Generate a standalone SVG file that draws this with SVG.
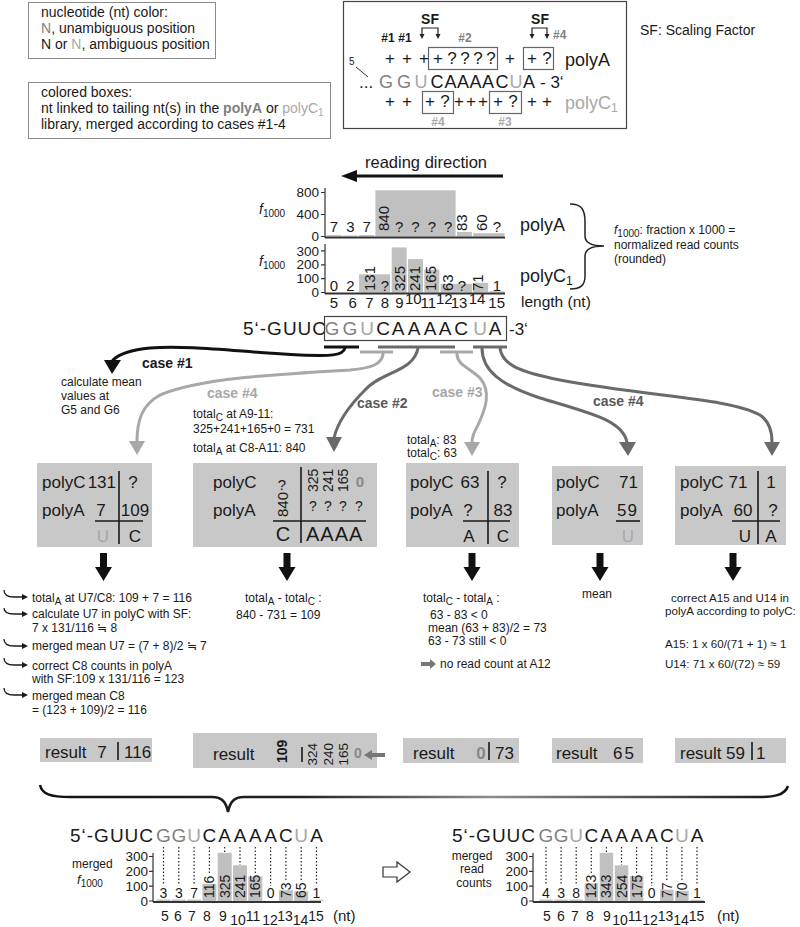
<svg xmlns="http://www.w3.org/2000/svg" width="800" height="927" viewBox="0 0 800 927">
<defs>
<style>
text{font-family:"Liberation Sans",Arial,Helvetica,sans-serif;fill:#1a1a1a}
.f10{font-size:10px}.f12{font-size:12px}.f13{font-size:13.5px}.f14{font-size:14px}.f15{font-size:15px}.f17{font-size:17px}.f18{font-size:18px}.f19{font-size:19px}.f20{font-size:20px}
.b{font-weight:bold}.it{font-style:italic}
.mid{text-anchor:middle}.end{text-anchor:end}
.gm{fill:#808080}.gl{fill:#a8a8a8}.gd{fill:#5a5a5a}.gg{fill:#888}
.frame{fill:none;stroke:#8a8a8a;stroke-width:1}
.frame2{fill:none;stroke:#444;stroke-width:1.2}
.cb{fill:none;stroke:#666;stroke-width:1.2}
.gbox{fill:#c8c8c8}
.bar{fill:#c0c0c0}
.thin{fill:#c4c4c4}
.ax{stroke:#333;stroke-width:1.2;fill:none}
.xax{stroke:#333;stroke-width:2}
.tl{stroke:#1a1a1a;stroke-width:1.6;fill:none}
.dot{stroke:#222;stroke-width:1.2;stroke-dasharray:1.5 2}
.cn{fill:none;stroke-width:3;stroke-linecap:round}
.k{stroke:#111}.kl{stroke:#a8a8a8}.kd{stroke:#6a6a6a}
.hk{fill:none;stroke:#1a1a1a;stroke-width:1.3}
</style>
<linearGradient id="brg" gradientUnits="userSpaceOnUse" x1="40" y1="0" x2="788" y2="0">
<stop offset="0" stop-color="#111"/><stop offset="0.35" stop-color="#222"/><stop offset="0.6" stop-color="#8c8c8c"/><stop offset="0.85" stop-color="#444"/><stop offset="1" stop-color="#111"/>
</linearGradient>
</defs>
<rect width="800" height="927" fill="#fff"/>

<g id="legend-color">
<rect class="frame" x="28.5" y="2.5" width="187" height="56"/>
<text class="f14" x="41" y="17">nucleotide (nt) color:</text>
<text class="f14" x="41" y="33"><tspan class="gm">N</tspan>, unambiguous position</text>
<text class="f14" x="41" y="49">N or <tspan class="gl">N</tspan>, ambiguous position</text>
</g>

<g id="legend-boxes">
<rect class="frame" x="28.5" y="82.5" width="302" height="56"/>
<text class="f14" x="41" y="97">colored boxes:</text>
<text class="f14" x="41" y="113">nt linked to tailing nt(s) in the <tspan class="gm b">polyA</tspan> or <tspan class="gl">polyC</tspan><tspan class="gl f10" dy="3">1</tspan></text>
<text class="f14" x="41" y="129">library, merged according to cases #1-4</text>
</g>

<g id="scheme">
<rect class="frame2" x="343.5" y="1.5" width="283" height="127"/>
<text class="f14 b mid" x="430" y="24">SF</text>
<text class="f14 b mid" x="540" y="24">SF</text>
<path d="M422,35 V28 H438 V35 M532,35 V28 H547 V35" fill="none" stroke="#222" stroke-width="1.2"/>
<path d="M419.5,34 L422,39 L424.5,34 Z M435.5,34 L438,39 L440.5,34 Z M529.5,34 L532,39 L534.5,34 Z M544.5,34 L547,39 L549.5,34 Z" fill="#222"/>
<text class="f12 b mid" x="388" y="42">#1</text>
<text class="f12 b mid" x="405" y="42">#1</text>
<text class="f12 b mid gm" x="465" y="42">#2</text>
<text class="f12 b gm" x="553" y="39">#4</text>
<rect class="cb" x="428.5" y="47.5" width="69" height="22"/>
<rect class="cb" x="523.5" y="47.5" width="30" height="22"/>
<text class="f17 mid" y="64" x="390 407 424 438 452 465 478 491 510 532 547">++++????++?</text>
<text class="f10" x="349" y="65">5</text>
<line x1="356" y1="67" x2="368" y2="77" stroke="#333" stroke-width="1"/>
<text class="f17" x="359" y="88">...</text>
<text class="f18 mid" y="88"><tspan class="gm" x="386 404">GG</tspan><tspan class="gl" x="421">U</tspan><tspan x="437 450.5 463 475.5 488 502">CAAAAC</tspan><tspan class="gl" x="516">U</tspan><tspan x="529">A</tspan></text>
<text class="f17" x="540" y="88">- 3‘</text>
<text class="f18" x="565" y="66" fill="#333">polyA</text>
<rect class="cb" x="422.5" y="91.5" width="31" height="22"/>
<rect class="cb" x="489.5" y="91.5" width="32" height="22"/>
<text class="f17 mid" y="107" x="390 407 430 445 459 471 483 498 513 532 547">+++?++++?++</text>
<text class="f18 gl" x="565" y="109">polyC<tspan class="f12" dy="3">1</tspan></text>
<text class="f12 b mid gl" x="438" y="126">#4</text>
<text class="f12 b mid gl" x="505" y="126">#3</text>
</g>

<g id="sf-note">
<text class="f14" x="640" y="35">SF: Scaling Factor</text>
</g>

<g id="reading-direction">
<text x="365" y="168" style="font-size:16.5px">reading direction</text>
<line x1="354" y1="176" x2="503" y2="176" stroke="#111" stroke-width="3"/>
<polygon points="341,176 357,170 357,182" fill="#111"/>
</g>

<g id="chart-polyA">
<text class="f14" x="259" y="214"><tspan class="it">f</tspan><tspan class="f10" dy="3">1000</tspan></text>
<path class="ax" d="M325,188 V238 M321,192.5 H325 M321,214.5 H325 M321,236.5 H325"/>
<text class="f13 end" x="319" y="197">800</text>
<text class="f13 end" x="319" y="219">400</text>
<text class="f13 end" x="319" y="241">0</text>
<rect class="thin" x="326.5" y="235" width="15" height="1.5"/>
<rect class="thin" x="342.8" y="235.5" width="15" height="1"/>
<rect class="thin" x="359.1" y="235" width="15" height="1.5"/>
<rect class="bar" x="375.4" y="190.3" width="80.2" height="46.2"/>
<rect class="bar" x="456.9" y="231.9" width="15" height="4.6"/>
<rect class="bar" x="473.2" y="233.2" width="31.3" height="3.3"/>
<line class="xax" x1="325" y1="237.5" x2="505" y2="237.5"/>
<text class="f15 mid" y="232" x="334 350.3 366.6">737</text>
<text class="f15" transform="translate(389,231) rotate(-90)">840</text>
<text class="f15 mid" y="232" x="399.2 415.5 431.8 448.1">????</text>
<text class="f15" transform="translate(467,231) rotate(-90)">83</text>
<text class="f15" transform="translate(487,231) rotate(-90)">60</text>
<text class="f15 mid" y="232" x="497">?</text>
<text class="f18" x="520" y="231">polyA</text>
</g>

<g id="chart-polyC">
<text class="f14" x="259" y="266"><tspan class="it">f</tspan><tspan class="f10" dy="3">1000</tspan></text>
<path class="ax" d="M325,244 V294 M321,250.9 H325 M321,264.8 H325 M321,278.6 H325 M321,292.5 H325"/>
<text class="f13 end" x="319" y="255.5">300</text>
<text class="f13 end" x="319" y="269.3">200</text>
<text class="f13 end" x="319" y="283.1">100</text>
<text class="f13 end" x="319" y="297">0</text>
<rect class="bar" x="359.1" y="274.3" width="31" height="18.2"/>
<rect class="bar" x="391.7" y="247.4" width="15" height="45.1"/>
<rect class="bar" x="408" y="259.1" width="15" height="33.4"/>
<rect class="bar" x="424.3" y="269.6" width="15" height="22.9"/>
<rect class="bar" x="440.6" y="283.8" width="31.3" height="8.7"/>
<rect class="bar" x="473.2" y="282.7" width="15" height="9.8"/>
<rect class="thin" x="489.5" y="291.2" width="15" height="1.3"/>
<line class="xax" x1="325" y1="293.5" x2="505" y2="293.5"/>
<text class="f15 mid" y="290.5" x="334 350.3">02</text>
<text class="f15" transform="translate(374.5,291) rotate(-90)">131</text>
<text class="f15 mid" y="290.5" x="385">?</text>
<text class="f15" transform="translate(404.5,291) rotate(-90)">325</text>
<text class="f15" transform="translate(419.5,291) rotate(-90)">241</text>
<text class="f15" transform="translate(435.5,291) rotate(-90)">165</text>
<text class="f15" transform="translate(452.5,291) rotate(-90)">63</text>
<text class="f15 mid" y="290.5" x="462">?</text>
<text class="f15" transform="translate(482.5,291) rotate(-90)">71</text>
<text class="f15 mid" y="290.5" x="497">1</text>
<text class="f18" x="520" y="282">polyC<tspan class="f12" dy="3">1</tspan></text>
<text class="f15 mid" y="308" x="334 352.7 369.3 385 399.3">56789</text>
<text class="f15 mid" x="413.3" y="304">10</text>
<text class="f15 mid" x="428.3" y="308">11</text>
<text class="f15 mid" x="444.3" y="304">12</text>
<text class="f15 mid" x="459" y="308">13</text>
<text class="f15 mid" x="477" y="304">14</text>
<text class="f15 mid" x="496.7" y="308">15</text>
<text x="521" y="307" style="font-size:15.5px">length (nt)</text>
</g>

<g id="brace-f1000">
<path d="M570,204 C582,204 585,210 585,222 L585,236 C585,243 592,246 604,246 C592,246 585,249 585,256 L585,276 C585,285 581,289 570,289" fill="none" stroke="#222" stroke-width="1.5"/>
<text class="f12" x="614" y="234"><tspan class="it">f</tspan><tspan class="f10" dy="2.5">1000</tspan><tspan dy="-2.5">: fraction x 1000 =</tspan></text>
<text class="f12" x="614" y="249">normalized read counts</text>
<text class="f12" x="614" y="263">(rounded)</text>
</g>

<g id="sequence">
<text class="f19" x="243" y="335" letter-spacing="1">5‘-GUUC</text>
<rect class="frame2" x="324.5" y="316.5" width="182" height="24" stroke="#333"/>
<text class="f19 mid" y="335"><tspan class="gm" x="332 350">GG</tspan><tspan class="gl" x="367">U</tspan><tspan x="383 398 414 430 445 461">CAAAAC</tspan><tspan class="gl" x="480">U</tspan><tspan x="495">A</tspan></text>
<text class="f17" x="509" y="335">-3‘</text>
<line x1="324" y1="347" x2="359" y2="347" stroke="#111" stroke-width="3"/>
<line x1="360" y1="352" x2="393" y2="352" stroke="#a8a8a8" stroke-width="3"/>
<line x1="378" y1="347" x2="455" y2="347" stroke="#6a6a6a" stroke-width="3"/>
<line x1="440" y1="352" x2="473" y2="352" stroke="#a8a8a8" stroke-width="3"/>
<line x1="473" y1="347" x2="507" y2="347" stroke="#6a6a6a" stroke-width="3"/>
</g>

<g id="connectors">
<path class="cn k" d="M345,348 C343,356 330,356 300,355 C240,352 190,345 150,348 C130,350 118,355 113,360"/>
<polygon points="104,360 121,360 112,374" fill="#111"/>
<path class="cn kl" d="M383,354 C382,364 372,368 350,370 C280,374 200,378 160,395 C142,405 137,420 137,442"/>
<polygon points="129,441 145,441 137,455" fill="#a8a8a8"/>
<path class="cn kd" d="M418,348 C414,372 380,372 365,390 C350,405 338,420 334,438"/>
<polygon points="326,437 342,437 334,452" fill="#6a6a6a"/>
<path class="cn kl" d="M457,354 C457,365 470,368 480,378 C492,392 485,410 478,425 C474,432 472,436 472,442"/>
<polygon points="464,442 480,442 472,456" fill="#a8a8a8"/>
<path class="cn kd" d="M482,348 C482,370 500,385 540,398 C590,413 622,420 627,442"/>
<polygon points="619,442 636,442 628,456" fill="#6a6a6a"/>
<path class="cn kd" d="M500,348 C502,365 520,372 560,380 C650,397 730,398 760,415 C770,422 772,432 772,442"/>
<polygon points="764,442 780,442 772,456" fill="#6a6a6a"/>
<text class="f14 b" x="142" y="368">case #1</text>
<text class="f14 b gl" x="207" y="398">case #4</text>
<text class="f14 b gd" x="357" y="408">case #2</text>
<text class="f14 b gl" x="432" y="397">case #3</text>
<text class="f14 b gd" x="593" y="406">case #4</text>
</g>

<g id="case1-note">
<text class="f12" x="61" y="386">calculate mean</text>
<text class="f12" x="61" y="400">values at</text>
<text class="f12" x="61" y="414">G5 and G6</text>
</g>

<g id="case2-note">
<text class="f12" x="193" y="418">total<tspan class="f10" dy="2.5">C</tspan><tspan dy="-2.5"> at A9-11:</tspan></text>
<text class="f12" x="193" y="433">325+241+165+0 = 731</text>
<text class="f12" x="193" y="452">total<tspan class="f10" dy="2.5">A</tspan><tspan dy="-2.5"> at C8-A11: 840</tspan></text>
</g>

<g id="case3-note">
<text class="f12" x="407" y="444">total<tspan class="f10" dy="2.5">A</tspan><tspan dy="-2.5">: 83</tspan></text>
<text class="f12" x="407" y="457">total<tspan class="f10" dy="2.5">C</tspan><tspan dy="-2.5">: 63</tspan></text>
</g>

<g id="box-case1">
<rect class="gbox" x="37" y="463" width="115" height="84"/>
<text class="f17" x="42" y="488">polyC</text>
<text class="f17 end" x="116" y="488">131</text>
<text class="f17 mid" x="133" y="488">?</text>
<text class="f17" x="42" y="516">polyA</text>
<text class="f17 mid" x="101" y="516">7</text>
<text class="f17 mid" x="135" y="516">109</text>
<line class="tl" x1="119" y1="471" x2="119" y2="544"/>
<line class="tl" x1="95" y1="521" x2="143" y2="521"/>
<text class="f17 mid gl" x="103" y="542">U</text>
<text class="f17 mid" x="135" y="542">C</text>
</g>

<g id="box-case2">
<rect class="gbox" x="193" y="463" width="184" height="84"/>
<text class="f17" x="213" y="488">polyC</text>
<text class="f17" x="213" y="516">polyA</text>
<text class="f15 mid" x="282" y="490">?</text>
<text class="f15" transform="translate(287.5,517) rotate(-90)">840</text>
<line class="tl" x1="301" y1="467" x2="301" y2="543"/>
<text class="f14" transform="translate(318,492) rotate(-90)">325</text>
<text class="f14" transform="translate(333,492) rotate(-90)">241</text>
<text class="f14" transform="translate(348,492) rotate(-90)">165</text>
<text class="f15 b gg mid" x="360" y="487">0</text>
<text class="f14 mid" y="511" x="313 328 343 359">????</text>
<line class="tl" x1="273" y1="521" x2="366" y2="521"/>
<text class="f20 mid" x="283" y="541">C</text>
<text class="f20" x="306" y="541" letter-spacing="1">AAAA</text>
</g>

<g id="box-case3">
<rect class="gbox" x="406" y="463" width="113" height="84"/>
<text class="f17" x="410" y="488">polyC</text>
<text class="f17 mid" x="470" y="488">63</text>
<text class="f17 mid" x="502" y="488">?</text>
<text class="f17" x="410" y="516">polyA</text>
<text class="f17 mid" x="468" y="516">?</text>
<text class="f17 mid" x="503" y="516">83</text>
<line class="tl" x1="488" y1="471" x2="488" y2="544"/>
<line class="tl" x1="463" y1="521" x2="510" y2="521"/>
<text class="f17 mid" x="469" y="542">A</text>
<text class="f17 mid" x="503" y="542">C</text>
</g>

<g id="box-case4">
<rect class="gbox" x="552" y="466" width="91" height="79"/>
<text class="f17" x="556" y="488">polyC</text>
<text class="f17 end" x="638" y="488">71</text>
<text class="f17" x="556" y="516">polyA</text>
<text class="f17 end" x="638" y="516" letter-spacing="1">59</text>
<line class="tl" x1="616" y1="521" x2="640" y2="521"/>
<text class="f17 mid gl" x="628" y="542">U</text>
</g>

<g id="box-case4b">
<rect class="gbox" x="675" y="466" width="111" height="79"/>
<text class="f17" x="680" y="488">polyC</text>
<text class="f17 mid" x="738" y="488">71</text>
<text class="f17 mid" x="771" y="488">1</text>
<text class="f17" x="680" y="516">polyA</text>
<text class="f17 mid" x="743" y="516">60</text>
<text class="f17 mid" x="773" y="516">?</text>
<line class="tl" x1="758" y1="471" x2="758" y2="544"/>
<line class="tl" x1="732" y1="521" x2="780" y2="521"/>
<text class="f17 mid" x="745" y="542">U</text>
<text class="f17 mid" x="771" y="542">A</text>
</g>

<g id="block-arrows" fill="#111">
<polygon points="100,553 107,553 107,567 112,567 103.5,581 95,567 100,567"/>
<polygon points="283.5,553 290.5,553 290.5,567 295.5,567 287,581 278.5,567 283.5,567"/>
<polygon points="468.5,553 475.5,553 475.5,567 480.5,567 472,581 463.5,567 468.5,567"/>
<polygon points="596.5,553 603.5,553 603.5,567 608.5,567 600,581 591.5,567 596.5,567"/>
<polygon points="729.5,553 736.5,553 736.5,567 741.5,567 733,581 724.5,567 729.5,567"/>
</g>

<g id="case1-steps">
<path class="hk" d="M4,590 C4,595 8,597 14,597 L23,597 M4,608 C4,613 8,614 14,614 L23,614 M4,639 C4,644 8,646 14,646 L23,646 M4,658 C4,663 8,665 14,665 L23,665 M4,688 C4,693 8,695 14,695 L23,695"/>
<path d="M22,594 L28,597 L22,600 Z M22,611 L28,614 L22,617 Z M22,643 L28,646 L22,649 Z M22,662 L28,665 L22,668 Z M22,692 L28,695 L22,698 Z" fill="#1a1a1a"/>
<text class="f12" x="32" y="602">total<tspan class="f10" dy="2.5">A</tspan><tspan dy="-2.5"> at U7/C8: 109 + 7 = 116</tspan></text>
<text class="f12" x="32" y="618">calculate U7 in polyC with SF:</text>
<text class="f12" x="32" y="632">7 x 131/116 ≒ 8</text>
<text class="f12" x="32" y="650">merged mean U7 = (7 + 8)/2 ≒ 7</text>
<text class="f12" x="32" y="670">correct C8 counts in polyA</text>
<text class="f12" x="32" y="683">with SF:109 x 131/116 = 123</text>
<text class="f12" x="32" y="700">merged mean C8</text>
<text class="f12" x="32" y="714">= (123 + 109)/2 = 116</text>
</g>

<g id="case2-steps">
<text class="f12" x="245" y="602">total<tspan class="f10" dy="2.5">A</tspan><tspan dy="-2.5"> -  total</tspan><tspan class="f10" dy="2.5">C</tspan><tspan dy="-2.5"> :</tspan></text>
<text class="f12" x="236" y="619">840 - 731 = 109</text>
</g>

<g id="case3-steps">
<text class="f12" x="423" y="602">total<tspan class="f10" dy="2.5">C</tspan><tspan dy="-2.5"> -  total</tspan><tspan class="f10" dy="2.5">A</tspan><tspan dy="-2.5"> :</tspan></text>
<text class="f12" x="430" y="619">63 - 83 &lt; 0</text>
<text class="f12" x="428" y="632">mean (63 + 83)/2 = 73</text>
<text class="f12" x="428" y="645">63 - 73 still &lt; 0</text>
<polygon points="421,662 430,662 430,659 436,664 430,669 430,666 421,666" fill="#777"/>
<text class="f12" x="440" y="668">no read count at A12</text>
</g>

<g id="case4-steps">
<text class="f12" x="582" y="598">mean</text>
</g>

<g id="case4b-steps">
<text x="671" y="602" style="font-size:11.6px">correct A15 and U14 in</text>
<text x="665" y="615" style="font-size:11.6px">polyA according to polyC:</text>
<text x="665" y="648" style="font-size:11.6px">A15: 1 x 60/(71 + 1) ≈ 1</text>
<text x="665" y="668" style="font-size:11.6px">U14: 71 x 60/(72) ≈ 59</text>
</g>

<g id="result1">
<rect class="gbox" x="40" y="738" width="112" height="24"/>
<text class="f17" x="45" y="758">result</text>
<text class="f17 mid" x="102" y="758">7</text>
<line class="tl" x1="118" y1="742" x2="118" y2="760"/>
<text class="f17" x="124" y="758">116</text>
</g>

<g id="result2">
<rect class="gbox" x="193" y="733" width="184" height="35"/>
<text class="f17" x="213" y="760">result</text>
<text class="f14 b" transform="translate(287,763) rotate(-90)">109</text>
<line class="tl" x1="302" y1="747" x2="302" y2="762"/>
<text class="f13" transform="translate(317,765.5) rotate(-90)">324</text>
<text class="f13" transform="translate(333,765.5) rotate(-90)">240</text>
<text class="f13" transform="translate(348,765.5) rotate(-90)">165</text>
<text class="f14 b gg mid" x="358" y="758">0</text>
<polygon points="364,755 372,750 372,753 385,753 385,757 372,757 372,760" fill="#777"/>
</g>

<g id="result3">
<rect class="gbox" x="403" y="738" width="116" height="25"/>
<text class="f17" x="413" y="759">result</text>
<text class="f17 b gg mid" x="481" y="759">0</text>
<line class="tl" x1="489" y1="742" x2="489" y2="760"/>
<text class="f17" x="495" y="759">73</text>
</g>

<g id="result4">
<rect class="gbox" x="552" y="738" width="91" height="25"/>
<text class="f17" x="556" y="759">result</text>
<text class="f17" x="613" y="759" letter-spacing="2">65</text>
</g>

<g id="result5">
<rect class="gbox" x="675" y="738" width="111" height="25"/>
<text class="f17" x="680" y="759">result</text>
<text class="f17" x="726" y="759">59</text>
<line class="tl" x1="752" y1="742" x2="752" y2="760"/>
<text class="f17" x="756" y="759">1</text>
</g>

<g id="merge-brace">
<path d="M40,785 C42,794 50,797 70,797 L212,797 C222,797 226,802 228,812 C230,802 234,797 244,797 L758,797 C775,797 785,795 788,786" fill="none" stroke="url(#brg)" stroke-width="2.5"/>
</g>

<g id="chart-merged-f1000">
<text class="f19" x="70" y="842" letter-spacing="1">5‘-GUUC</text>
<text class="f19 mid" y="842"><tspan class="gm" x="163.5 178.8">GG</tspan><tspan class="gl" x="194.1">U</tspan><tspan x="209.4 224.7 240 255.3 270.6 285.9">CAAAAC</tspan><tspan class="gl" x="301.2">U</tspan><tspan x="316.5">A</tspan></text>
<path class="dot" d="M163.5,847 V884 M178.8,847 V884 M194.1,847 V884 M209.4,847 V873 M224.7,847 V852.5 M240,847 V865 M255.3,847 V873 M270.6,847 V886 M285.9,847 V881 M301.2,847 V881 M316.5,847 V885"/>
<text class="f12" x="72" y="868">merged</text>
<text x="77" y="884" style="font-size:13px"><tspan class="it">f</tspan><tspan class="f10" dy="3">1000</tspan></text>
<path class="ax" d="M153,853 V902 M149,856.5 H153 M149,871.3 H153 M149,886.2 H153 M149,901 H153"/>
<text class="f13 end" x="148" y="861">300</text>
<text class="f13 end" x="148" y="876">200</text>
<text class="f13 end" x="148" y="891">100</text>
<text class="f13 end" x="148" y="905.5">0</text>
<rect class="thin" x="156.5" y="899.5" width="14" height="1.5"/>
<rect class="thin" x="171.8" y="899.5" width="14" height="1.5"/>
<rect class="thin" x="187.1" y="899.5" width="14" height="1.5"/>
<rect class="bar" x="202.4" y="883.8" width="14" height="17.2"/>
<rect class="bar" x="217.7" y="852.8" width="14" height="48.2"/>
<rect class="bar" x="233" y="865.3" width="14" height="35.7"/>
<rect class="bar" x="248.3" y="876.5" width="14" height="24.5"/>
<rect class="bar" x="278.9" y="890.2" width="14" height="10.8"/>
<rect class="bar" x="294.2" y="891.4" width="14" height="9.6"/>
<rect class="thin" x="309.5" y="899.8" width="14" height="1.2"/>
<line class="xax" x1="153" y1="902" x2="321" y2="902"/>
<text class="f14 mid" y="898" x="163.5 178.8 194.1">337</text>
<text class="f14" transform="translate(214.4,898) rotate(-90)">116</text>
<text class="f14" transform="translate(229.7,898) rotate(-90)">325</text>
<text class="f14" transform="translate(245,898) rotate(-90)">241</text>
<text class="f14" transform="translate(260.3,898) rotate(-90)">165</text>
<text class="f14 mid" x="270.6" y="898">0</text>
<text class="f14" transform="translate(290.9,898) rotate(-90)">73</text>
<text class="f14" transform="translate(306.2,898) rotate(-90)">65</text>
<text class="f14 mid" x="316.5" y="898">1</text>
<text class="f14 mid" y="921" x="165 178 192 207 223">56789</text>
<text class="f14 mid" x="238" y="925">10</text>
<text class="f14 mid" x="253" y="921">11</text>
<text class="f14 mid" x="270" y="925">12</text>
<text class="f14 mid" x="285" y="921">13</text>
<text class="f14 mid" x="300.5" y="925">14</text>
<text class="f14 mid" x="316" y="921">15</text>
<text class="f15" x="333" y="921">(nt)</text>
</g>

<g id="convert-arrow">
<polygon points="383,867 397,867 397,862 410,872 397,882 397,877 383,877" fill="#fff" stroke="#333" stroke-width="1.2"/>
</g>

<g id="chart-merged-counts">
<text class="f19" x="452" y="842" letter-spacing="1">5‘-GUUC</text>
<text class="f19 mid" y="842"><tspan class="gm" x="546 561.1">GG</tspan><tspan class="gl" x="576.2">U</tspan><tspan x="591.3 606.4 621.5 636.6 651.7 666.8">CAAAAC</tspan><tspan class="gl" x="681.9">U</tspan><tspan x="697">A</tspan></text>
<path class="dot" d="M546,847 V884 M561.1,847 V884 M576.2,847 V884 M591.3,847 V873 M606.4,847 V852.5 M621.5,847 V865 M636.6,847 V873 M651.7,847 V886 M666.8,847 V881 M681.9,847 V881 M697,847 V885"/>
<text class="f12 mid" x="472" y="860">merged</text>
<text class="f12 mid" x="472" y="873">read</text>
<text class="f12 mid" x="474" y="887">counts</text>
<path class="ax" d="M533,853 V902 M529,856.5 H533 M529,871.3 H533 M529,886.2 H533 M529,901 H533"/>
<text class="f13 end" x="528" y="861">300</text>
<text class="f13 end" x="528" y="876">200</text>
<text class="f13 end" x="528" y="891">100</text>
<text class="f13 end" x="528" y="905.5">0</text>
<rect class="thin" x="539.3" y="899.5" width="13.5" height="1.5"/>
<rect class="thin" x="554.4" y="899.5" width="13.5" height="1.5"/>
<rect class="thin" x="569.5" y="899.5" width="13.5" height="1.5"/>
<rect class="bar" x="584.6" y="883.5" width="13.5" height="17.5"/>
<rect class="bar" x="599.7" y="852.8" width="13.5" height="48.2"/>
<rect class="bar" x="614.8" y="865.3" width="13.5" height="35.7"/>
<rect class="bar" x="629.9" y="876" width="13.5" height="25"/>
<rect class="bar" x="660.1" y="889.6" width="13.5" height="11.4"/>
<rect class="bar" x="675.2" y="890.8" width="13.5" height="10.2"/>
<rect class="thin" x="690.3" y="899.8" width="13.5" height="1.2"/>
<line class="xax" x1="533" y1="902" x2="705" y2="902"/>
<text class="f14 mid" y="898" x="546 561.1 576.2">438</text>
<text class="f14" transform="translate(596.3,898) rotate(-90)">123</text>
<text class="f14" transform="translate(611.4,898) rotate(-90)">343</text>
<text class="f14" transform="translate(626.5,898) rotate(-90)">254</text>
<text class="f14" transform="translate(641.6,898) rotate(-90)">175</text>
<text class="f14 mid" x="651.7" y="898">0</text>
<text class="f14" transform="translate(671.8,898) rotate(-90)">77</text>
<text class="f14" transform="translate(686.9,898) rotate(-90)">70</text>
<text class="f14 mid" x="697" y="898">1</text>
<text class="f14 mid" y="921" x="547 561 575 590 607">56789</text>
<text class="f14 mid" x="620" y="925">10</text>
<text class="f14 mid" x="635" y="921">11</text>
<text class="f14 mid" x="650" y="925">12</text>
<text class="f14 mid" x="665.5" y="921">13</text>
<text class="f14 mid" x="681" y="925">14</text>
<text class="f14 mid" x="696.5" y="921">15</text>
<text class="f15" x="717" y="921">(nt)</text>
</g>
</svg>
